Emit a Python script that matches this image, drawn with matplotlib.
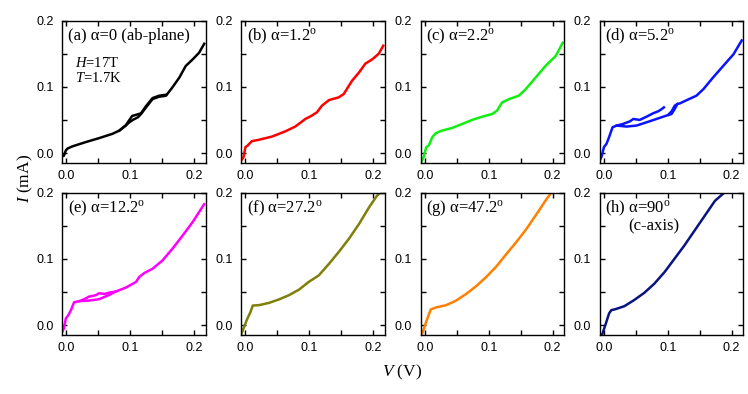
import numpy as np
import matplotlib.pyplot as plt
from matplotlib.ticker import MultipleLocator

plt.rcParams['font.family'] = ['Liberation Sans', 'DejaVu Sans']
plt.rcParams['mathtext.fontset'] = 'custom'
plt.rcParams['mathtext.rm'] = 'Liberation Serif'
plt.rcParams['mathtext.it'] = 'Liberation Serif:italic'

# (a) alpha = 0, ab-plane : up and down sweeps
v_a = [-0.010, -0.004, -0.001, 0.002, 0.009, 0.030, 0.051, 0.072, 0.083, 0.093, 0.098, 0.104,
       0.112, 0.117, 0.124, 0.135, 0.145, 0.156, 0.166, 0.177, 0.187, 0.198, 0.208, 0.216]
i_a = [-0.006, -0.004, 0.004, 0.007, 0.010, 0.0165, 0.0225, 0.029, 0.034, 0.0415, 0.046, 0.050,
       0.054, 0.059, 0.068, 0.0815, 0.085, 0.0865, 0.099, 0.114, 0.1315, 0.1415, 0.1515, 0.165]
v_a2 = [0.083, 0.093, 0.098, 0.103, 0.110, 0.117, 0.124, 0.135, 0.145, 0.156]
i_a2 = [0.034, 0.042, 0.049, 0.056, 0.058, 0.060, 0.070, 0.083, 0.0865, 0.088]

# (b) alpha = 1.2
v_b = [-0.010, -0.003, 0.000, 0.003, 0.010, 0.021, 0.042, 0.063, 0.078, 0.094, 0.104, 0.112,
       0.120, 0.131, 0.146, 0.154, 0.167, 0.178, 0.188, 0.199, 0.209, 0.216]
i_b = [-0.016, -0.006, 0.009, 0.011, 0.018, 0.020, 0.025, 0.033, 0.040, 0.0515, 0.0565, 0.0615,
       0.0716, 0.080, 0.084, 0.089, 0.109, 0.1216, 0.135, 0.1416, 0.150, 0.162]

# (c) alpha = 2.2
v_c = [-0.007, -0.002, 0.002, 0.006, 0.0115, 0.017, 0.027, 0.043, 0.0585, 0.074, 0.090, 0.1055,
       0.113, 0.121, 0.132, 0.147, 0.158, 0.1735, 0.189, 0.205, 0.216]
i_c = [-0.016, -0.006, 0.009, 0.0115, 0.024, 0.030, 0.034, 0.038, 0.044, 0.050, 0.055, 0.059,
       0.064, 0.0765, 0.0815, 0.0865, 0.0965, 0.114, 0.1315, 0.1465, 0.1665]

# (d) alpha = 5.2 : lower sweep and upper (noisy) sweep
v_d = [-0.009, -0.004, 0.000, 0.004, 0.008, 0.0135, 0.020, 0.0355, 0.051, 0.067, 0.0825, 0.098,
       0.106, 0.111, 0.115, 0.119, 0.130, 0.145, 0.156, 0.171, 0.187, 0.203, 0.216]
i_d = [-0.016, -0.006, 0.009, 0.014, 0.024, 0.039, 0.0415, 0.040, 0.0415, 0.0465, 0.0515, 0.0566,
       0.059, 0.0666, 0.074, 0.075, 0.080, 0.0866, 0.0966, 0.114, 0.1316, 0.149, 0.170]
v_d2 = [0.020, 0.030, 0.041, 0.046, 0.056, 0.067, 0.077, 0.085, 0.090, 0.094, np.nan,
        0.101, 0.106, 0.111, 0.115]
i_d2 = [0.0415, 0.044, 0.048, 0.0515, 0.050, 0.055, 0.060, 0.063, 0.066, 0.069, np.nan,
        0.058, 0.063, 0.0716, 0.074]

# (e) alpha = 12.2
v_e = [-0.009, -0.004, -0.001, 0.003, 0.007, 0.012, 0.020, 0.0355, 0.051, 0.067, 0.077, 0.093,
       0.109, 0.114, 0.122, 0.135, 0.1505, 0.166, 0.182, 0.1975, 0.216]
i_e = [-0.015, -0.005, 0.010, 0.015, 0.0225, 0.0345, 0.036, 0.037, 0.039, 0.0455, 0.0505, 0.0565,
       0.065, 0.0725, 0.0785, 0.085, 0.0975, 0.115, 0.135, 0.155, 0.1825]
v_e2 = [0.020, 0.030, 0.0355, 0.046, 0.051, 0.060, 0.067, 0.077]
i_e2 = [0.036, 0.040, 0.043, 0.045, 0.048, 0.047, 0.049, 0.0505]

# (f) alpha = 27.2
v_f = [-0.007, -0.003, 0.002, 0.008, 0.0115, 0.021, 0.037, 0.052, 0.068, 0.084, 0.099, 0.115,
       0.131, 0.146, 0.162, 0.178, 0.193, 0.206, 0.213]
i_f = [-0.015, -0.005, 0.0075, 0.020, 0.0295, 0.030, 0.0335, 0.0385, 0.045, 0.0535, 0.065, 0.075,
       0.0925, 0.110, 0.130, 0.1525, 0.1765, 0.195, 0.201]

# (g) alpha = 47.2
v_g = [-0.005, 0.001, 0.009, 0.017, 0.033, 0.048, 0.064, 0.080, 0.096, 0.112, 0.127, 0.143,
       0.159, 0.175, 0.1905, 0.199]
i_g = [-0.015, 0.0025, 0.0235, 0.0265, 0.030, 0.0365, 0.0465, 0.0585, 0.0725, 0.0885, 0.1065,
       0.125, 0.145, 0.1675, 0.190, 0.201]

# (h) alpha = 90, c-axis
v_h = [-0.003, 0.003, 0.008, 0.0115, 0.018, 0.032, 0.047, 0.063, 0.079, 0.095, 0.1105, 0.126,
       0.142, 0.158, 0.174, 0.190]
i_h = [-0.015, 0.0025, 0.0175, 0.0225, 0.024, 0.0285, 0.0375, 0.0485, 0.0625, 0.080, 0.100,
       0.120, 0.1425, 0.165, 0.1875, 0.201]

deg = "$^{\\rm o}$"
panels = [
    ([(v_a, i_a), (v_a2, i_a2)], "black", "(a) α=0 (ab-plane)"),
    ([(v_b, i_b)], "#ff0000", "(b) α=1.2" + deg),
    ([(v_c, i_c)], "#11ee11", "(c) α=2.2" + deg),
    ([(v_d, i_d), (v_d2, i_d2)], "#0a14ff", "(d) α=5.2" + deg),
    ([(v_e, i_e), (v_e2, i_e2)], "#ff00ff", "(e) α=12.2" + deg),
    ([(v_f, i_f)], "#7f7f0a", "(f) α=27.2" + deg),
    ([(v_g, i_g)], "#ff8000", "(g) α=47.2" + deg),
    ([(v_h, i_h)], "#0a1480", "(h) α=90" + deg),
]

W, H = 748, 394
fig = plt.figure(figsize=(W / 100, H / 100), dpi=100)
lefts = [62, 241, 420.5, 599.5]
tops = [20.5, 192.5]
aw, ah = 143.5, 142.5

for k, (curves, color, label) in enumerate(panels):
    row, col = divmod(k, 4)
    ax = fig.add_axes([lefts[col] / W, 1 - (tops[row] + ah) / H, aw / W, ah / H])
    for vx, iy in curves:
        ax.plot(vx, iy, color=color, lw=1.8, solid_joinstyle="round")
    ax.set_xlim(-0.007, 0.218)
    ax.set_ylim(-0.015, 0.2001)
    ax.xaxis.set_major_locator(MultipleLocator(0.1))
    ax.xaxis.set_minor_locator(MultipleLocator(0.05))
    ax.yaxis.set_major_locator(MultipleLocator(0.1))
    ax.yaxis.set_minor_locator(MultipleLocator(0.05))
    ax.xaxis.set_major_formatter(lambda x, p: f"{x:.1f}")
    ax.yaxis.set_major_formatter(lambda x, p: f"{x:.1f}")
    ax.tick_params(which="both", direction="in", top=True, right=True,
                   length=3.5, width=1.0, labelsize=9)
    ax.tick_params(axis="y", pad=6)
    ax.tick_params(axis="x", pad=5)
    for s in ax.spines.values():
        s.set_linewidth(1.0)
    ax.text(0.04, 0.89, label, transform=ax.transAxes, fontsize=12,
            family="Liberation Serif", va="center", ha="left")
    if k == 0:
        ax.text(0.09, 0.70, "$\\it{H}$=17T", transform=ax.transAxes, fontsize=10.5,
                family="Liberation Serif", va="center")
        ax.text(0.09, 0.60, "$\\it{T}$=1.7K", transform=ax.transAxes, fontsize=10.5,
                family="Liberation Serif", va="center")
    if k == 7:
        ax.text(0.20, 0.76, "(c-axis)", transform=ax.transAxes, fontsize=12,
                family="Liberation Serif", va="center", ha="left")

fig.text(25 / W, 1 - 178 / H, "$\\it{I}$ (mA)", rotation=90, fontsize=12.5,
         family="Liberation Serif", ha="center", va="center")
fig.text(402 / W, 1 - 372 / H, "$\\it{V}$ (V)", fontsize=12.5,
         family="Liberation Serif", ha="center", va="center")

fig.savefig("out.png", dpi=100)
